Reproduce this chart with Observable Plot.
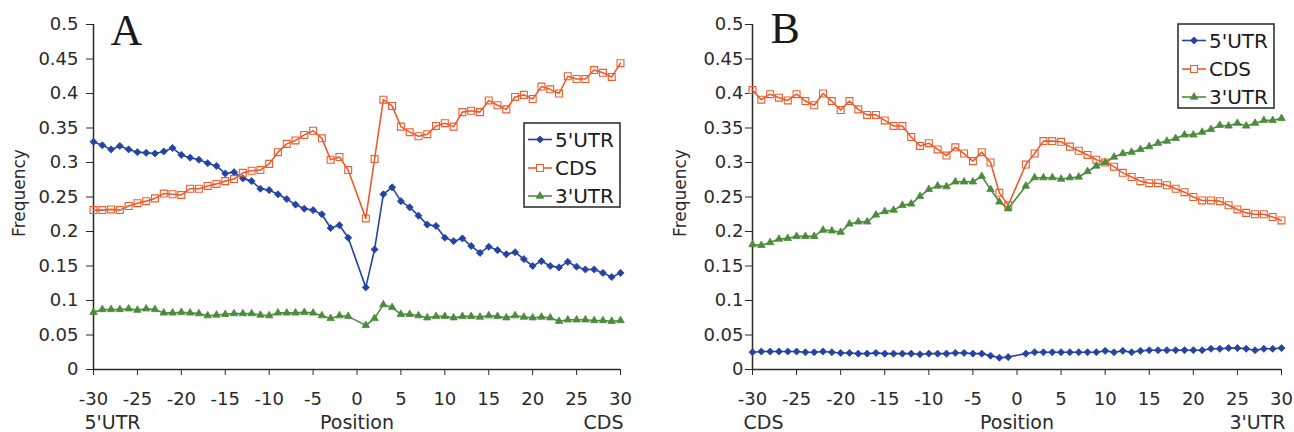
<!DOCTYPE html>
<html>
<head>
<meta charset="utf-8">
<script src="https://cdn.jsdelivr.net/npm/d3@7"></script>
<script src="https://cdn.jsdelivr.net/npm/@observablehq/plot@0.6"></script>
<style>
html, body { margin: 0; padding: 0; background: #fff; }
#wrap { display: flex; width: 1294px; height: 432px; overflow: hidden; }
</style>
</head>
<body>
<div id="wrap"></div>
<script>
// ---- data ----
const positions = [-30,-29,-28,-27,-26,-25,-24,-23,-22,-21,-20,-19,-18,-17,-16,-15,-14,-13,-12,-11,-10,-9,-8,-7,-6,-5,-4,-3,-2,-1,
                   1,2,3,4,5,6,7,8,9,10,11,12,13,14,15,16,17,18,19,20,21,22,23,24,25,26,27,28,29,30];
const seriesNames = ["5'UTR", "CDS", "3'UTR"];
const seriesColors = ["#2443a3", "#ee5c2c", "#4b8c3c"];
const xTicks = [-30, -25, -20, -15, -10, -5, 0, 5, 10, 15, 20, 25, 30];
const xTickLabels = ["-30", "-25", "-20", "-15", "-10", "-5", "0", "5", "10", "15", "20", "25", "30"];
const yTicks = [0, 0.05, 0.1, 0.15, 0.2, 0.25, 0.3, 0.35, 0.4, 0.45, 0.5];
const yTickLabels = ["0", "0.05", "0.1", "0.15", "0.2", "0.25", "0.3", "0.35", "0.4", "0.45", "0.5"];

// Panel A
const panelA_utr5 = [0.330,0.325,0.319,0.324,0.319,0.315,0.314,0.313,0.316,0.321,0.311,0.307,0.304,0.299,0.295,0.284,0.286,0.277,0.273,0.262,0.260,0.254,0.247,0.239,0.233,0.231,0.225,0.205,0.209,0.191,
                     0.119,0.174,0.254,0.264,0.244,0.235,0.223,0.210,0.208,0.191,0.186,0.190,0.179,0.169,0.178,0.173,0.167,0.170,0.160,0.150,0.157,0.150,0.148,0.156,0.149,0.145,0.145,0.140,0.134,0.140];
const panelA_cds  = [0.231,0.231,0.232,0.231,0.237,0.241,0.244,0.248,0.255,0.254,0.253,0.262,0.262,0.266,0.269,0.273,0.276,0.285,0.288,0.289,0.298,0.315,0.327,0.332,0.340,0.346,0.335,0.304,0.308,0.289,
                     0.219,0.305,0.391,0.382,0.352,0.344,0.338,0.341,0.353,0.357,0.352,0.373,0.375,0.373,0.390,0.383,0.377,0.395,0.398,0.392,0.410,0.406,0.400,0.425,0.421,0.421,0.434,0.430,0.424,0.444];
const panelA_utr3 = [0.083,0.087,0.087,0.087,0.088,0.086,0.088,0.087,0.082,0.082,0.083,0.082,0.081,0.078,0.079,0.080,0.081,0.081,0.081,0.079,0.078,0.082,0.082,0.082,0.083,0.082,0.078,0.074,0.078,0.077,
                     0.064,0.074,0.094,0.090,0.080,0.080,0.078,0.075,0.077,0.077,0.075,0.077,0.077,0.076,0.078,0.077,0.075,0.078,0.076,0.075,0.076,0.075,0.070,0.072,0.072,0.072,0.071,0.071,0.070,0.071];

// Panel B
const panelB_utr5 = [0.025,0.026,0.026,0.026,0.026,0.026,0.025,0.025,0.026,0.025,0.024,0.024,0.023,0.023,0.024,0.023,0.023,0.023,0.023,0.022,0.023,0.023,0.023,0.024,0.024,0.023,0.023,0.020,0.017,0.018,
                     0.023,0.025,0.025,0.025,0.025,0.025,0.025,0.025,0.025,0.027,0.025,0.027,0.025,0.027,0.028,0.028,0.028,0.028,0.028,0.028,0.028,0.030,0.030,0.031,0.031,0.030,0.028,0.030,0.030,0.031];
const panelB_cds  = [0.405,0.391,0.399,0.394,0.390,0.399,0.389,0.383,0.400,0.389,0.376,0.389,0.377,0.369,0.369,0.361,0.353,0.353,0.337,0.324,0.328,0.319,0.310,0.322,0.313,0.302,0.315,0.300,0.256,0.238,
                     0.297,0.313,0.331,0.331,0.330,0.323,0.317,0.311,0.304,0.300,0.294,0.285,0.279,0.273,0.270,0.270,0.267,0.262,0.257,0.250,0.245,0.245,0.244,0.238,0.232,0.227,0.225,0.225,0.221,0.216];
const panelB_utr3 = [0.181,0.180,0.184,0.189,0.190,0.193,0.193,0.193,0.202,0.201,0.199,0.211,0.214,0.214,0.224,0.229,0.231,0.238,0.240,0.251,0.261,0.266,0.265,0.272,0.272,0.272,0.280,0.261,0.243,0.233,
                     0.266,0.278,0.278,0.278,0.276,0.278,0.279,0.287,0.295,0.300,0.308,0.313,0.315,0.319,0.323,0.328,0.331,0.335,0.340,0.340,0.344,0.348,0.354,0.353,0.357,0.353,0.357,0.361,0.361,0.364];

// ---- drawing ----
const FONT = "'DejaVu Sans', 'Liberation Sans', sans-serif";
const symbolTypes = ["diamond2", "square", "triangle"];
const symbolR = [3.2, 3.9, 2.8];
const symbolFill = [true, false, true];

function makePanel(cfg) {
  const data = [];
  seriesNames.forEach((name, k) => {
    positions.forEach((p, i) => data.push({pos: p, value: cfg.series[k][i], series: name}));
  });
  const dotMarks = seriesNames.map((name, k) =>
    Plot.dot(data.filter(d => d.series === name), {
      x: "pos", y: "value",
      symbol: () => symbolTypes[k],
      r: symbolR[k],
      stroke: seriesColors[k],
      strokeWidth: symbolFill[k] ? 0.8 : 1.1,
      fill: symbolFill[k] ? seriesColors[k] : "none"
    })
  );
  const svg = Plot.plot({
    width: 647,
    height: 432,
    marginLeft: cfg.marginLeft,
    marginRight: cfg.marginRight,
    marginTop: 24,
    marginBottom: 63,
    style: {fontFamily: FONT, fontSize: "18px", color: "#2a2a2a", background: "#fff", overflow: "visible"},
    x: {domain: [-30, 30]},
    y: {domain: [0, 0.5]},
    symbol: {domain: symbolTypes, range: symbolTypes},
    marks: [
      Plot.axisX({ticks: xTicks, tickSize: 6, tickPadding: 17, tickFormat: d => xTickLabels[xTicks.indexOf(d)], label: null, fontSize: 18}),
      Plot.axisY({ticks: yTicks, tickSize: 7, tickPadding: cfg.yPad, tickFormat: d => yTickLabels[yTicks.indexOf(d)], label: null, fontSize: 18}),
      Plot.ruleX([-30], {stroke: "#2a2a2a", strokeWidth: 1.5}),
      Plot.ruleY([0], {stroke: "#2a2a2a", strokeWidth: 1.5}),
      Plot.line(data, {x: "pos", y: "value", z: "series", stroke: d => seriesColors[seriesNames.indexOf(d.series)], strokeWidth: 1.6}),
      ...dotMarks,
      Plot.text([cfg.letter], {frameAnchor: "top-left", textAnchor: "start", lineAnchor: "bottom", dx: cfg.letterDx, dy: cfg.letterDy,
        fontFamily: "'Liberation Serif', 'DejaVu Serif', serif", fontSize: 44, fill: "#1a1a1a"}),
      Plot.text(["Frequency"], {frameAnchor: "left", rotate: -90, textAnchor: "middle", lineAnchor: "middle", dx: cfg.freqDx, dy: -4, fontSize: 17, fill: "#2a2a2a"}),
      Plot.text([cfg.leftLabel], {frameAnchor: "bottom-left", textAnchor: "start", lineAnchor: "bottom", dx: -9, dy: 59, fontSize: 19, fill: "#2a2a2a"}),
      Plot.text(["Position"], {frameAnchor: "bottom", textAnchor: "middle", lineAnchor: "bottom", dy: 59, fontSize: 19, fill: "#2a2a2a"}),
      Plot.text([cfg.rightLabel], {frameAnchor: "bottom-right", textAnchor: "end", lineAnchor: "bottom", dx: cfg.rightDx, dy: 59, fontSize: 19, fill: "#2a2a2a"})
    ]
  });

  // legend box
  const g = d3.select(svg).append("g").attr("transform", `translate(${cfg.legendX},${cfg.legendY})`);
  g.append("rect").attr("x", 0).attr("y", 0).attr("width", 96).attr("height", 84)
    .attr("fill", "#fff").attr("stroke", "#333").attr("stroke-width", 1.6);
  const rowY = [16.5, 45, 73];
  seriesNames.forEach((name, k) => {
    const row = g.append("g").attr("transform", `translate(0,${rowY[k]})`);
    row.append("line").attr("x1", 4).attr("x2", 28).attr("y1", 0).attr("y2", 0)
      .attr("stroke", seriesColors[k]).attr("stroke-width", 1.6);
    const sym = symbolTypes[k] === "diamond2" ? d3.symbolDiamond2 : symbolTypes[k] === "square" ? d3.symbolSquare : d3.symbolTriangle;
    row.append("path").attr("transform", "translate(16,0)")
      .attr("d", d3.symbol(sym, Math.PI * symbolR[k] * symbolR[k])())
      .attr("fill", symbolFill[k] ? seriesColors[k] : "#fff")
      .attr("stroke", seriesColors[k]).attr("stroke-width", symbolFill[k] ? 0.8 : 1.1);
    row.append("text").attr("x", 31).attr("y", 0).attr("dy", "0.36em")
      .attr("text-anchor", "start")
      .attr("font-family", FONT).attr("font-size", 20).attr("fill", "#1a1a1a").text(name);
  });
  return svg;
}

const wrap = document.getElementById("wrap");
wrap.appendChild(makePanel({
  letter: "A",
  series: [panelA_utr5, panelA_cds, panelA_utr3],
  marginLeft: 93, marginRight: 27, yPad: 8,
  leftLabel: "5'UTR", rightLabel: "CDS", rightDx: 3,
  letterDx: 17, letterDy: 20, freqDx: -74,
  legendX: 524, legendY: 123
}));
wrap.appendChild(makePanel({
  letter: "B",
  series: [panelB_utr5, panelB_cds, panelB_utr3],
  marginLeft: 105, marginRight: 13, yPad: 2,
  leftLabel: "CDS", rightLabel: "3'UTR", rightDx: 4,
  letterDx: 18, letterDy: 18, freqDx: -72,
  legendX: 531, legendY: 24
}));
</script>
</body>
</html>
